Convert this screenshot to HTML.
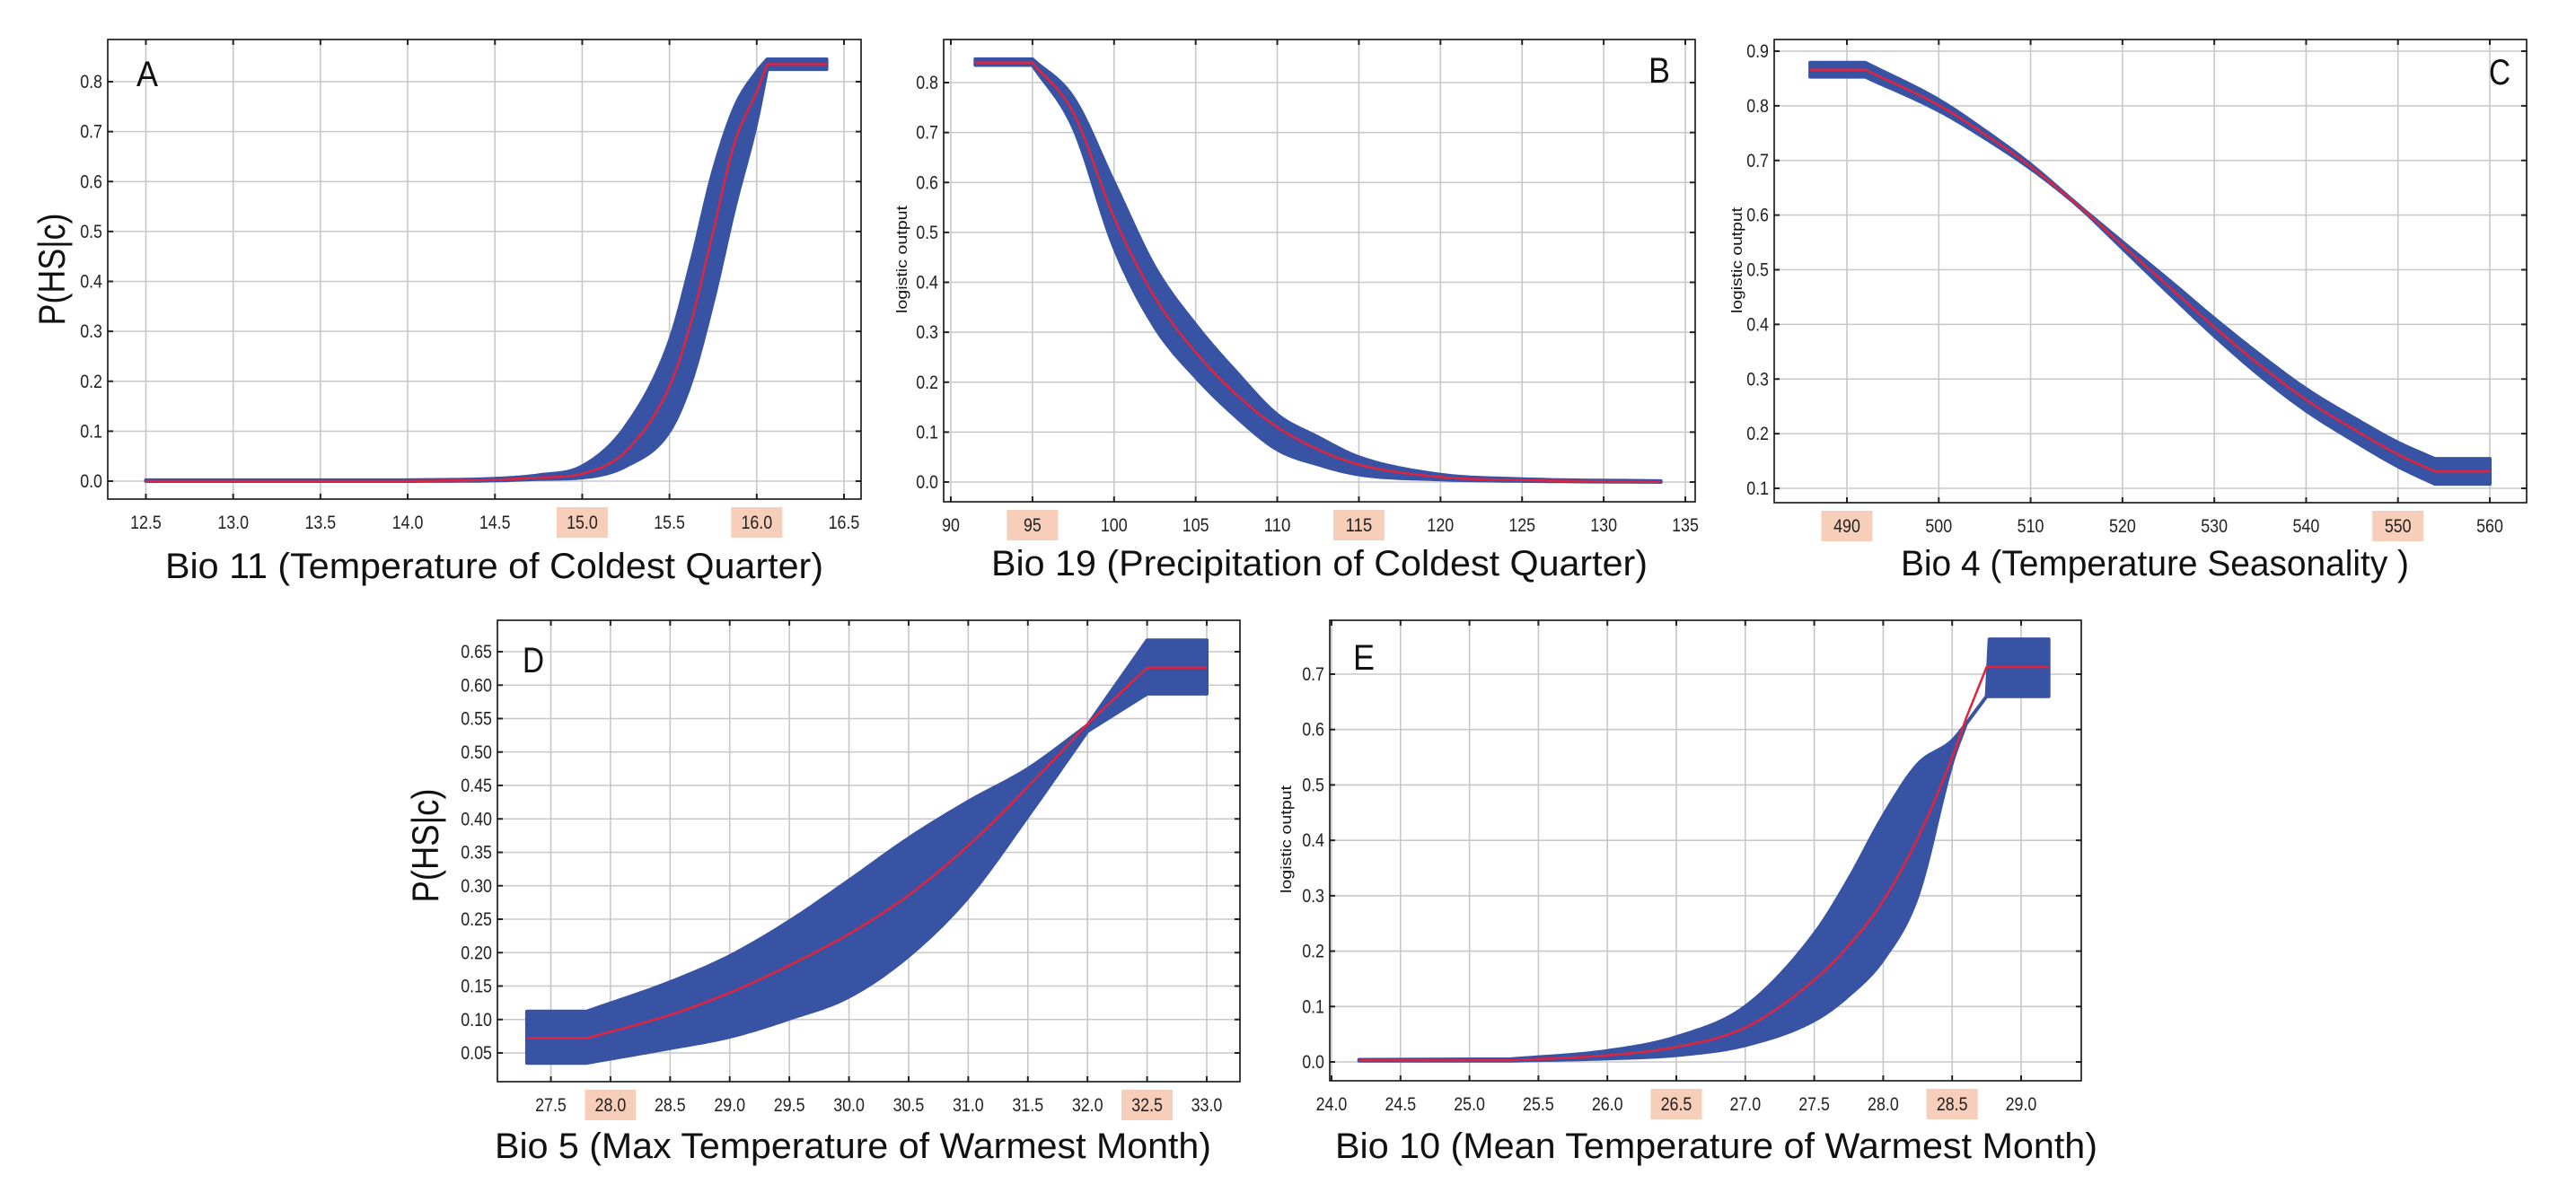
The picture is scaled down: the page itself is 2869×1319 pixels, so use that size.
<!DOCTYPE html>
<html><head><meta charset="utf-8">
<style>
html,body{margin:0;padding:0;background:#fff;}
svg{display:block;}
text{font-family:"Liberation Sans",sans-serif;}
</style></head>
<body>
<svg id="fig" width="2869" height="1319" viewBox="0 0 2869 1319" xmlns="http://www.w3.org/2000/svg"></svg>
<script>
// ---- Panel A data: Bio 11 ----
const aX     = [12.5, 14.0, 14.5, 14.75, 15.0, 15.25, 15.5, 15.625, 15.75, 15.875, 16.0, 16.06, 16.4];
const aMean  = [0, 0, 0.003, 0.007, 0.015, 0.06, 0.19, 0.32, 0.5, 0.68, 0.78, 0.835, 0.835];
const aUpper = [0.002, 0.002, 0.005, 0.012, 0.03, 0.11, 0.28, 0.44, 0.62, 0.75, 0.82, 0.845, 0.845];
const aLower = [0, 0, 0.001, 0.004, 0.007, 0.03, 0.10, 0.2, 0.36, 0.55, 0.72, 0.825, 0.825];
const aXTicks = ["12.5","13.0","13.5","14.0","14.5","15.0","15.5","16.0","16.5"];
const aYTicks = ["0.0","0.1","0.2","0.3","0.4","0.5","0.6","0.7","0.8"];
const aMarked = ["15.0","16.0"];
// ---- Panel B data: Bio 19 ----
const bX     = [91.5, 95, 97.5, 100, 102.5, 105, 107.5, 110, 112.5, 115, 120, 125, 133.5];
const bMean  = [0.84, 0.84, 0.74, 0.53, 0.37, 0.26, 0.175, 0.11, 0.065, 0.035, 0.01, 0.004, 0];
const bUpper = [0.847, 0.847, 0.77, 0.6, 0.43, 0.315, 0.22, 0.135, 0.09, 0.05, 0.015, 0.006, 0.002];
const bLower = [0.835, 0.835, 0.71, 0.47, 0.31, 0.21, 0.13, 0.065, 0.035, 0.015, 0.005, 0.002, 0];
const bXTicks = ["90","95","100","105","110","115","120","125","130","135"];
const bYTicks = ["0.0","0.1","0.2","0.3","0.4","0.5","0.6","0.7","0.8"];
const bMarked = ["95","115"];
// ---- Panel C data: Bio 4 ----
const cX     = [486, 492, 500, 505, 510, 515, 520, 525, 530, 535, 540, 545, 550, 554, 560];
const cMean  = [0.866, 0.866, 0.801, 0.748, 0.689, 0.62, 0.545, 0.47, 0.395, 0.325, 0.262, 0.21, 0.162, 0.131, 0.131];
const cUpper = [0.879, 0.879, 0.811, 0.755, 0.693, 0.621, 0.551, 0.482, 0.411, 0.344, 0.282, 0.231, 0.184, 0.154, 0.154];
const cLower = [0.853, 0.853, 0.791, 0.741, 0.685, 0.619, 0.539, 0.458, 0.379, 0.306, 0.242, 0.189, 0.14, 0.108, 0.108];
const cXTicks = ["490","500","510","520","530","540","550","560"];
const cYTicks = ["0.1","0.2","0.3","0.4","0.5","0.6","0.7","0.8","0.9"];
const cMarked = ["490","550"];
// ---- Panel D data: Bio 5 ----
const dX     = [27.3, 27.8, 28.5, 29.0, 29.5, 30.0, 30.5, 31.0, 31.5, 32.0, 32.5, 33.0];
const dMean  = [0.072, 0.072, 0.107, 0.14, 0.181, 0.228, 0.286, 0.36, 0.448, 0.542, 0.626, 0.626];
const dUpper = [0.112, 0.112, 0.156, 0.195, 0.247, 0.308, 0.371, 0.426, 0.475, 0.54, 0.667, 0.667];
const dLower = [0.035, 0.035, 0.057, 0.074, 0.101, 0.134, 0.195, 0.283, 0.404, 0.531, 0.587, 0.587];
const dXTicks = ["27.5","28.0","28.5","29.0","29.5","30.0","30.5","31.0","31.5","32.0","32.5","33.0"];
const dYTicks = ["0.05","0.10","0.15","0.20","0.25","0.30","0.35","0.40","0.45","0.50","0.55","0.60","0.65"];
const dMarked = ["28.0","32.5"];
// ---- Panel E data: Bio 10 ----
const eX     = [24.2, 25.3, 26.0, 26.5, 27.0, 27.5, 27.75, 28.0, 28.25, 28.5, 28.6, 28.75, 28.77, 29.2];
const eMean  = [0.003, 0.003, 0.012, 0.027, 0.062, 0.148, 0.21, 0.291, 0.404, 0.55, 0.62, 0.713, 0.713, 0.713];
const eUpper = [0.004, 0.005, 0.02, 0.045, 0.1, 0.231, 0.33, 0.444, 0.537, 0.58, 0.61, 0.66, 0.763, 0.763];
const eLower = [0.002, 0.002, 0.006, 0.012, 0.03, 0.075, 0.12, 0.185, 0.3, 0.54, 0.61, 0.66, 0.66, 0.66];
const eXTicks = ["24.0","24.5","25.0","25.5","26.0","26.5","27.0","27.5","28.0","28.5","29.0"];
const eYTicks = ["0.0","0.1","0.2","0.3","0.4","0.5","0.6","0.7"];
const eMarked = ["26.5","28.5"];

const NS = "http://www.w3.org/2000/svg";
const svg = document.getElementById('fig');
function mk(tag, attrs, parent){
  const e = document.createElementNS(NS, tag);
  for (const k in attrs) e.setAttribute(k, attrs[k]);
  (parent||svg).appendChild(e);
  return e;
}
function textW(s, fs){ let w=0; for(const c of s){ w += (c==='.'?0.278:0.556)*fs; } return w; }

// monotone cubic (Fritsch-Carlson) sampling in pixel space
function mono(px, py){
  const n = px.length;
  if (n < 3) return px.map((x,i)=>[x,py[i]]);
  const dx=[], s=[];
  for (let i=0;i<n-1;i++){ dx.push(px[i+1]-px[i]); s.push((py[i+1]-py[i])/dx[i]); }
  const m=[s[0]];
  for (let i=1;i<n-1;i++){ m.push(s[i-1]*s[i] <= 0 ? 0 : (s[i-1]+s[i])/2); }
  m.push(s[n-2]);
  for (let i=0;i<n-1;i++){
    if (s[i]===0){ m[i]=0; m[i+1]=0; continue; }
    const a=m[i]/s[i], b=m[i+1]/s[i], h=a*a+b*b;
    if (h>9){ const t=3/Math.sqrt(h); m[i]=t*a*s[i]; m[i+1]=t*b*s[i]; }
  }
  const out=[];
  for (let i=0;i<n-1;i++){
    const N=14;
    for (let k=0;k<N;k++){
      const t=k/N, t2=t*t, t3=t2*t;
      const h00=2*t3-3*t2+1, h10=t3-2*t2+t, h01=-2*t3+3*t2, h11=t3-t2;
      out.push([px[i]+t*dx[i], h00*py[i]+h10*dx[i]*m[i]+h01*py[i+1]+h11*dx[i]*m[i+1]]);
    }
  }
  out.push([px[n-1],py[n-1]]);
  return out;
}
// smooth only between indices s..e, straight segments outside (sharp plateau corners)
function smooth(px, py, s, e){
  const out=[];
  for (let i=0;i<s;i++) out.push([px[i],py[i]]);
  mono(px.slice(s,e+1), py.slice(s,e+1)).forEach(q=>out.push(q));
  for (let i=e+1;i<px.length;i++) out.push([px[i],py[i]]);
  return out;
}

const panels = [
 {id:'a', letter:'A', X:aX, M:aMean, U:aUpper, L:aLower, xt:aXTicks, yt:aYTicks, mark:aMarked, seg:[1,11],
  frame:[120,44,959,556], xd:[12.5,16.5], xr:[162.5,940], yd:[0,0.8], yr:[536,91],
  letterPos:[152,96], title:'Bio 11 (Temperature of Coldest Quarter)', titleX:184, titleW:733, titleY:644,
  ylab:'P(HS|c)', ylabBig:true, ylabX:72, ylabY:300, ylabW:125},
 {id:'b', letter:'B', X:bX, M:bMean, U:bUpper, L:bLower, xt:bXTicks, yt:bYTicks, mark:bMarked, seg:[1,12],
  frame:[1051,44,1888,559], xd:[90,135], xr:[1059,1877], yd:[0,0.8], yr:[537,92],
  letterPos:[1836,92], title:'Bio 19 (Precipitation of Coldest Quarter)', titleX:1104, titleW:731, titleY:641,
  ylab:'logistic output', ylabBig:false, ylabX:1010, ylabY:289, ylabW:120},
 {id:'c', letter:'C', X:cX, M:cMean, U:cUpper, L:cLower, xt:cXTicks, yt:cYTicks, mark:cMarked, seg:[1,13],
  frame:[1976,44,2814,560], xd:[490,560], xr:[2057,2773], yd:[0.1,0.9], yr:[544,57],
  letterPos:[2772,94], title:'Bio 4 (Temperature Seasonality )', titleX:2117, titleW:566, titleY:641,
  ylab:'logistic output', ylabBig:false, ylabX:1940, ylabY:290, ylabW:118},
 {id:'d', letter:'D', X:dX, M:dMean, U:dUpper, L:dLower, xt:dXTicks, yt:dYTicks, mark:dMarked, seg:[1,9],
  frame:[554,691,1381,1205], xd:[27.5,33], xr:[613.5,1344], yd:[0.05,0.65], yr:[1173,726],
  letterPos:[582,749], title:'Bio 5 (Max Temperature of Warmest Month)', titleX:551, titleW:798, titleY:1290,
  ylab:'P(HS|c)', ylabBig:true, ylabX:488, ylabY:942, ylabW:127},
 {id:'e', letter:'E', X:eX, M:eMean, U:eUpper, L:eLower, xt:eXTicks, yt:eYTicks, mark:eMarked, seg:[1,10],
  frame:[1481,691,2318,1204], xd:[24,29], xr:[1483,2251], yd:[0,0.7], yr:[1183,751],
  letterPos:[1507,746], title:'Bio 10 (Mean Temperature of Warmest Month)', titleX:1487, titleW:849, titleY:1290,
  ylab:'logistic output', ylabBig:false, ylabX:1438, ylabY:935, ylabW:120}
];

panels.forEach(p=>{
  const sx = v => p.xr[0] + (v - p.xd[0]) / (p.xd[1]-p.xd[0]) * (p.xr[1]-p.xr[0]);
  const sy = v => p.yr[0] + (v - p.yd[0]) / (p.yd[1]-p.yd[0]) * (p.yr[1]-p.yr[0]);
  const [fx0,fy0,fx1,fy1] = p.frame;
  const g = mk('g', {});
  
  

  p.xt.forEach(t=>{
    const x = sx(parseFloat(t));
    const gl = mk('line',{x1:x,x2:x,y1:fy0,y2:fy1,stroke:'#c8c8c8','stroke-width':1.6},g);
    
    
    mk('line',{x1:x,x2:x,y1:fy0,y2:fy0+6,stroke:'#222','stroke-width':2},g);
    mk('line',{x1:x,x2:x,y1:fy1,y2:fy1-6,stroke:'#222','stroke-width':2},g);
    const ly = fy1 + 26;
    if (p.mark.indexOf(t) >= 0){
      const hb = mk('rect',{x:x-28.5,y:ly-17,width:57,height:34,fill:'#f7ceba'},g);
      
      
    }
    const tl = mk('text',{x:x,y:ly+7,'font-size':21,fill:'#222','text-anchor':'middle',
      textLength:(textW(t,21)*0.85).toFixed(1),lengthAdjust:'spacingAndGlyphs'},g);
    tl.textContent = t;
    
    
  });
  p.yt.forEach(t=>{
    const y = sy(parseFloat(t));
    const gl = mk('line',{x1:fx0,x2:fx1,y1:y,y2:y,stroke:'#c8c8c8','stroke-width':1.6},g);
    
    
    mk('line',{x1:fx0,x2:fx0+6,y1:y,y2:y,stroke:'#222','stroke-width':2},g);
    mk('line',{x1:fx1,x2:fx1-6,y1:y,y2:y,stroke:'#222','stroke-width':2},g);
    const w = textW(t,21)*0.85;
    const tl = mk('text',{x:fx0-6-w,y:y+7,'font-size':21,fill:'#222',
      textLength:w.toFixed(1),lengthAdjust:'spacingAndGlyphs'},g);
    tl.textContent = t;
    
    
  });

  const pxs = p.X.map(sx);
  const up = smooth(pxs, p.U.map(sy), p.seg[0], p.seg[1]);
  const lo = smooth(pxs, p.L.map(sy), p.seg[0], p.seg[1]);
  const mean = smooth(pxs, p.M.map(sy), p.seg[0], p.seg[1]);

  let d = '';
  up.forEach((q,i)=>{ d += (i?'L':'M') + q[0].toFixed(1) + ',' + q[1].toFixed(1); });
  for (let i=lo.length-1;i>=0;i--) d += 'L' + lo[i][0].toFixed(1) + ',' + lo[i][1].toFixed(1);
  d += 'Z';
  const band = mk('path',{d:d,fill:'#3953a4',stroke:'#3953a4','stroke-width':4,'stroke-linejoin':'round'},g);
  
  

  const pts = mean.map(q=> q[0].toFixed(1)+','+q[1].toFixed(1)).join(' ');
  const line = mk('polyline',{points:pts,fill:'none',stroke:'#e3223c','stroke-width':2.5,'stroke-linejoin':'round'},g);
  
  

  const fr = mk('rect',{x:fx0,y:fy0,width:fx1-fx0,height:fy1-fy0,fill:'none',stroke:'#111','stroke-width':1.6},g);
  
  

  const lt = mk('text',{x:p.letterPos[0],y:p.letterPos[1],'font-size':40,fill:'#111',
    textLength:24,lengthAdjust:'spacingAndGlyphs'},g);
  lt.textContent = p.letter;
  
  

  const xt = mk('text',{x:p.titleX,y:p.titleY,'font-size':40,fill:'#111',
    textLength:p.titleW,lengthAdjust:'spacingAndGlyphs'},g);
  xt.textContent = p.title;
  
  

  const fs = p.ylabBig ? 42 : 17;
  const yl = mk('text',{x:0,y:0,'font-size':fs,fill:'#111','text-anchor':'middle',
    transform:'translate('+p.ylabX+','+p.ylabY+') rotate(-90)',
    textLength:p.ylabW,lengthAdjust:'spacingAndGlyphs'},g);
  yl.textContent = p.ylab;
  
  
});
</script>
</body></html>
